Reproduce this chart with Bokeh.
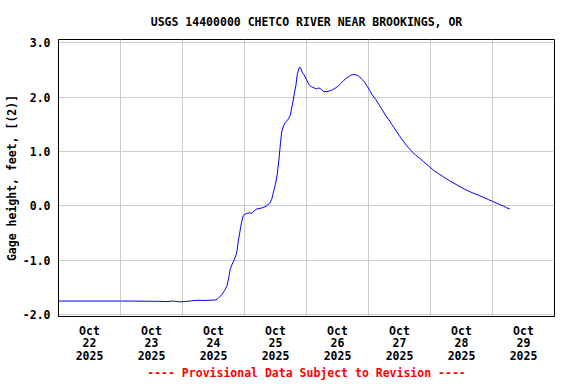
import pandas as pd
from bokeh.plotting import figure
from bokeh.models import Range1d, FixedTicker
from bokeh.embed import file_html
from bokeh.resources import INLINE

# ---- data ----
start = pd.Timestamp("2025-10-22 00:00")
days_since_start = [
    0.00, 1.00, 1.60, 1.75, 1.85, 1.95, 2.05, 2.15, 2.25, 2.35, 2.45, 2.54,
    2.58, 2.64, 2.68, 2.72, 2.75, 2.77, 2.80, 2.83, 2.86, 2.88, 2.90, 2.92,
    2.94, 2.96, 2.98, 3.00, 3.05, 3.09, 3.12, 3.16, 3.20, 3.25, 3.31, 3.36,
    3.41, 3.44, 3.46, 3.50, 3.53, 3.56, 3.58, 3.60, 3.63, 3.65, 3.68, 3.71,
    3.74, 3.77, 3.80, 3.83, 3.85, 3.87, 3.89, 3.91, 3.93, 3.96, 4.00, 4.04,
    4.08, 4.12, 4.16, 4.20, 4.24, 4.28, 4.33, 4.39, 4.43, 4.47, 4.51, 4.55,
    4.59, 4.63, 4.67, 4.71, 4.76, 4.82, 4.86, 4.90, 4.94, 4.98, 5.02, 5.06,
    5.12, 5.17, 5.22, 5.27, 5.33, 5.38, 5.44, 5.49, 5.56, 5.62, 5.69, 5.76,
    5.83, 5.89, 5.97, 6.05, 6.13, 6.21, 6.32, 6.43, 6.54, 6.65, 6.76, 6.86,
    6.94, 7.02, 7.10, 7.18, 7.23, 7.28,
]
gage_height_ft = [
    -1.755, -1.755, -1.76, -1.765, -1.755, -1.77, -1.765, -1.75, -1.74, -1.745, -1.74, -1.735,
    -1.70, -1.63, -1.56, -1.47, -1.30, -1.17, -1.08, -1.01, -0.92, -0.83, -0.65, -0.52,
    -0.38, -0.27, -0.18, -0.16, -0.14, -0.13, -0.14, -0.09, -0.06, -0.05, -0.03, 0.00,
    0.05, 0.12, 0.22, 0.40, 0.59, 0.90, 1.15, 1.36, 1.47, 1.52, 1.56, 1.60,
    1.67, 1.85, 2.04, 2.22, 2.41, 2.50, 2.555, 2.52, 2.46, 2.41, 2.32, 2.23,
    2.19, 2.17, 2.15, 2.17, 2.14, 2.10, 2.10, 2.12, 2.14, 2.17, 2.20, 2.25,
    2.29, 2.34, 2.37, 2.40, 2.42, 2.40, 2.37, 2.32, 2.27, 2.20, 2.12, 2.04,
    1.95, 1.86, 1.77, 1.67, 1.58, 1.49, 1.39, 1.30, 1.19, 1.10, 1.01, 0.93,
    0.87, 0.81, 0.73, 0.65, 0.59, 0.53, 0.45, 0.38, 0.31, 0.25, 0.20, 0.15,
    0.11, 0.07, 0.03, -0.01, -0.04, -0.06,
]
x_tick_labels = ["Oct\n22\n2025", "Oct\n23\n2025", "Oct\n24\n2025", "Oct\n25\n2025",
                 "Oct\n26\n2025", "Oct\n27\n2025", "Oct\n28\n2025", "Oct\n29\n2025"]
y_ticks = [-2.0, -1.0, 0.0, 1.0, 2.0, 3.0]
title_text = "USGS 14400000 CHETCO RIVER NEAR BROOKINGS, OR"
y_label_text = "Gage height, feet, [(2)]"
note_text = "---- Provisional Data Subject to Revision ----"

MS_PER_DAY = 86400000.0
t0 = start.value / 1e6
times = [t0 + d * MS_PER_DAY for d in days_since_start]
label_ticks = [t0 + (i + 0.5) * MS_PER_DAY for i in range(len(x_tick_labels))]
grid_ticks = [t0 + i * MS_PER_DAY for i in range(1, len(x_tick_labels))]

FONT = "DejaVu Sans Mono"
FS = "11.5px"
W, H = 568, 382

p = figure(width=W, height=H, output_backend="svg", toolbar_location=None,
           x_axis_type="datetime",
           x_range=Range1d(t0, t0 + 8 * MS_PER_DAY), y_range=Range1d(-2.04, 3.06),
           min_border_left=58, min_border_right=W - 554, min_border_top=39,
           min_border_bottom=H - 316, title=title_text)
p.background_fill_color = "white"
p.border_fill_color = "white"
p.outline_line_color = "black"
p.outline_line_width = 1

p.line(times, gage_height_ft, line_color="#0000ff", line_width=1)

# title
p.title.align = "center"
p.title.vertical_align = "bottom"
p.title.standoff = 22
p.title.text_font = FONT
p.title.text_font_style = "bold"
p.title.text_font_size = FS
p.title.text_color = "black"

# axes
p.xaxis.ticker = FixedTicker(ticks=label_ticks)
p.xaxis.major_label_overrides = {t: lab for t, lab in zip(label_ticks, x_tick_labels)}
p.yaxis.ticker = FixedTicker(ticks=y_ticks)
p.yaxis.major_label_overrides = {v: f"{v:.1f}" for v in y_ticks}
for ax in (p.xaxis[0], p.yaxis[0]):
    ax.major_tick_out = 0
    ax.major_tick_in = 0
    ax.minor_tick_out = 0
    ax.minor_tick_in = 0
    ax.axis_line_color = "black"
    ax.major_label_text_font = FONT
    ax.major_label_text_font_style = "bold"
    ax.major_label_text_font_size = FS
    ax.major_label_text_color = "black"
    ax.axis_label_text_font = FONT
    ax.axis_label_text_font_style = "bold"
    ax.axis_label_text_font_size = FS
p.xaxis.major_label_standoff = 7
p.xaxis.major_label_text_line_height = 0.9
p.yaxis.major_label_standoff = 8

p.yaxis.axis_label = y_label_text
p.yaxis.axis_label_standoff = 1
p.yaxis.axis_label_text_color = "black"

p.xaxis.axis_label = note_text
p.xaxis.axis_label_standoff = 0
p.xaxis.axis_label_text_color = "#ff0000"

# grid
p.xgrid.ticker = FixedTicker(ticks=grid_ticks)
p.ygrid.ticker = FixedTicker(ticks=y_ticks)
for g in (p.xgrid[0], p.ygrid[0]):
    g.grid_line_color = "#cccccc"
    g.grid_line_width = 1

open("out.html", "w").write(file_html(p, INLINE))
